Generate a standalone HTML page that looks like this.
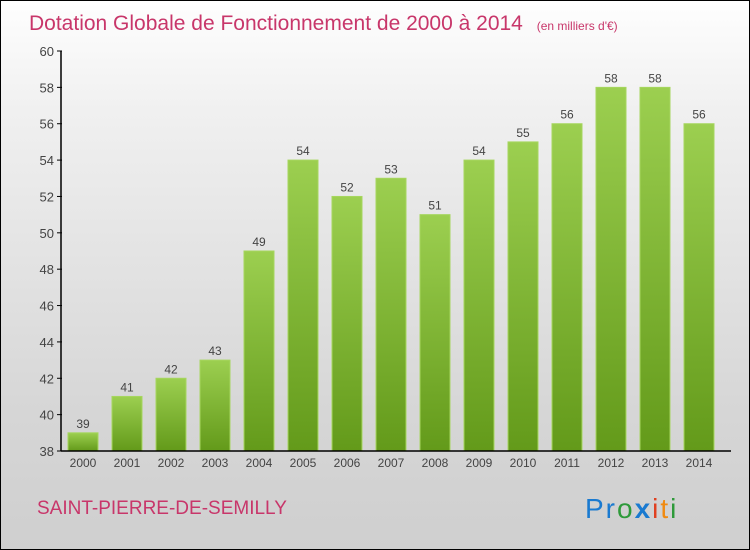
<!DOCTYPE html>
<html><head><meta charset="utf-8"><style>
html,body{margin:0;padding:0}
#c{position:relative;width:748px;height:548px;border:1px solid #000;background:linear-gradient(#fefefe,#f0f0f0 20%,#d6d6d6 75%,#cfcfcf);font-family:"Liberation Sans",sans-serif;overflow:hidden}
</style></head><body>
<div id="c">
<svg width="748" height="548">
<defs><linearGradient id="g" x1="0" y1="0" x2="0" y2="1"><stop offset="0" stop-color="#9ccf50"/><stop offset="1" stop-color="#639a1a"/></linearGradient></defs>
<text x="28" y="29" font-size="21" fill="#c8366a">Dotation Globale de Fonctionnement de 2000 à 2014 <tspan font-size="12" dx="8">(en milliers d'€)</tspan></text>
<g id="plot"></g>
<text x="36" y="513" font-size="19" fill="#c8366a">SAINT-PIERRE-DE-SEMILLY</text>
<text x="584" y="517" font-size="28" letter-spacing="2"><tspan fill="#1a7ad0">Pr</tspan><tspan fill="#2e9a3a">o</tspan><tspan fill="#1a7ad0" font-weight="bold">x</tspan><tspan fill="#e04020">i</tspan><tspan fill="#f08a10">t</tspan><tspan fill="#2e9a3a">i</tspan></text>
</svg></div>
<script>
const years=["2000","2001","2002","2003","2004","2005","2006","2007","2008","2009","2010","2011","2012","2013","2014"];
const values=[39,41,42,43,49,54,52,53,51,54,55,56,58,58,56];
const ticks=[38,40,42,44,46,48,50,52,54,56,58,60];
const ns="http://www.w3.org/2000/svg",p=document.getElementById('plot');
const y=v=>450-(v-38)*400/22, x=i=>82+44*i;
function mk(t,a){const e=document.createElementNS(ns,t);for(const k in a)e.setAttribute(k,a[k]);p.appendChild(e);return e;}
ticks.forEach(t=>{
 const l=mk('line',{x1:56,x2:61,y1:y(t),y2:y(t),stroke:'#000'});
 
 
 const tx=mk('text',{x:53,y:y(t)+5,'font-size':13,fill:'#444','text-anchor':'end'});tx.textContent=t;
 
 
});
values.forEach((v,i)=>{
 const r=mk('rect',{x:x(i)-15,y:y(v),width:30,height:450-y(v),fill:'url(#g)',stroke:'#a6d65e','stroke-width':1});
 
 
 const t=mk('text',{x:x(i),y:y(v)-5,'font-size':12,fill:'#444','text-anchor':'middle'});t.textContent=v;
 
 
 const yl=mk('text',{x:x(i),y:466,'font-size':12,fill:'#444','text-anchor':'middle'});yl.textContent=years[i];
 
 
});
const a1=mk('line',{x1:60,x2:60,y1:50,y2:450,stroke:'#000','stroke-width':1.5});


const a2=mk('line',{x1:60,x2:730,y1:450,y2:450,stroke:'#000','stroke-width':1.5});


</script>
</body></html>
